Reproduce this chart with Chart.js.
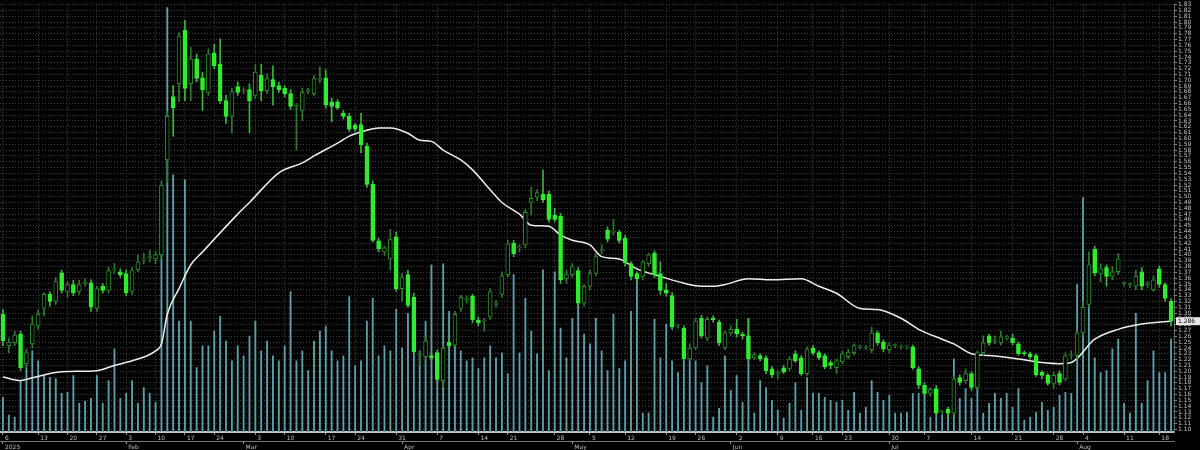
<!DOCTYPE html>
<html>
<head>
<meta charset="utf-8">
<script src="https://cdn.jsdelivr.net/npm/chart.js@4.4.1/dist/chart.umd.min.js"></script>
<style>
  html, body { margin: 0; padding: 0; background: #000; }
  #wrap { width: 1200px; height: 450px; }
</style>
</head>
<body>
<div id="wrap"><canvas id="price-chart" width="1200" height="450"></canvas></div>
<script>
// daily candles, Jan - Aug 2025
const opens = [1.298,1.244,1.249,1.264,1.213,1.247,1.278,1.308,1.332,1.320,
  1.369,1.337,1.349,1.337,1.351,1.352,1.308,1.346,1.339,1.374,
  1.371,1.368,1.337,1.374,1.393,1.395,1.393,1.400,1.563,1.672,
  1.694,1.786,1.694,1.737,1.704,1.679,1.747,1.728,1.665,1.638,
  1.689,1.682,1.684,1.674,1.709,1.682,1.701,1.691,1.686,1.677,
  1.655,1.648,1.682,1.677,1.701,1.704,1.663,1.663,1.643,1.638,
  1.623,1.624,1.587,1.521,1.424,1.405,1.393,1.431,1.342,1.366,
  1.327,1.227,1.225,1.227,1.232,1.184,1.250,1.245,1.308,1.323,
  1.329,1.288,1.286,1.293,1.315,1.332,1.366,1.420,1.412,1.417,
  1.490,1.499,1.504,1.504,1.468,1.466,1.359,1.366,1.373,1.317,
  1.346,1.368,1.407,1.442,1.439,1.439,1.429,1.385,1.368,1.363,
  1.385,1.403,1.368,1.340,1.330,1.278,1.274,1.221,1.240,1.291,
  1.257,1.291,1.284,1.240,1.266,1.272,1.264,1.261,1.223,1.227,
  1.223,1.204,1.196,1.206,1.204,1.230,1.223,1.196,1.240,1.232,
  1.227,1.215,1.206,1.216,1.225,1.232,1.242,1.240,1.237,1.266,
  1.250,1.237,1.244,1.242,1.242,1.242,1.204,1.176,1.162,1.170,
  1.130,1.135,1.128,1.189,1.184,1.196,1.172,1.232,1.261,1.252,
  1.249,1.257,1.257,1.247,1.232,1.230,1.227,1.198,1.193,1.179,
  1.196,1.187,1.227,1.227,1.266,1.315,1.410,1.368,1.378,1.363,
  1.371,1.351,1.349,1.346,1.371,1.349,1.340,1.376,1.349,1.320];

const highs = [1.306,1.257,1.269,1.269,1.238,1.295,1.306,1.335,1.337,1.361,
  1.374,1.354,1.356,1.356,1.359,1.357,1.346,1.351,1.380,1.385,
  1.376,1.374,1.378,1.400,1.402,1.408,1.405,1.527,1.646,1.691,
  1.782,1.803,1.757,1.745,1.714,1.754,1.762,1.771,1.674,1.686,
  1.697,1.687,1.694,1.728,1.728,1.711,1.725,1.697,1.691,1.684,
  1.660,1.686,1.686,1.708,1.723,1.718,1.669,1.667,1.648,1.643,
  1.626,1.643,1.592,1.527,1.429,1.415,1.444,1.439,1.368,1.374,
  1.334,1.235,1.259,1.230,1.237,1.244,1.257,1.303,1.330,1.329,
  1.332,1.293,1.291,1.342,1.322,1.371,1.425,1.425,1.417,1.478,
  1.516,1.512,1.546,1.509,1.480,1.471,1.374,1.385,1.378,1.349,
  1.374,1.402,1.417,1.448,1.461,1.442,1.434,1.388,1.371,1.391,
  1.403,1.407,1.388,1.351,1.335,1.281,1.278,1.247,1.291,1.296,
  1.293,1.295,1.288,1.269,1.278,1.289,1.267,1.291,1.232,1.230,
  1.227,1.208,1.201,1.210,1.225,1.235,1.227,1.242,1.244,1.235,
  1.230,1.218,1.221,1.235,1.238,1.247,1.245,1.244,1.276,1.269,
  1.254,1.249,1.247,1.245,1.244,1.245,1.208,1.181,1.172,1.176,
  1.133,1.138,1.191,1.194,1.204,1.199,1.235,1.261,1.264,1.261,
  1.269,1.262,1.264,1.250,1.235,1.233,1.230,1.201,1.196,1.198,
  1.201,1.232,1.235,1.269,1.320,1.405,1.415,1.385,1.383,1.380,
  1.402,1.354,1.352,1.374,1.378,1.354,1.364,1.381,1.352,1.325];

const lows = [1.244,1.232,1.244,1.201,1.208,1.240,1.272,1.295,1.312,1.315,
  1.334,1.327,1.330,1.332,1.346,1.303,1.303,1.334,1.334,1.368,
  1.361,1.330,1.332,1.371,1.385,1.388,1.385,1.393,1.524,1.604,
  1.663,1.665,1.665,1.697,1.648,1.674,1.720,1.660,1.626,1.609,
  1.674,1.677,1.609,1.669,1.665,1.677,1.657,1.679,1.672,1.650,
  1.580,1.631,1.677,1.674,1.696,1.652,1.629,1.650,1.633,1.612,
  1.612,1.575,1.516,1.422,1.405,1.398,1.374,1.337,1.320,1.310,
  1.230,1.210,1.218,1.218,1.181,1.172,1.238,1.242,1.303,1.317,
  1.283,1.278,1.269,1.289,1.310,1.327,1.361,1.397,1.405,1.412,
  1.468,1.493,1.490,1.456,1.456,1.351,1.351,1.361,1.312,1.312,
  1.340,1.364,1.402,1.422,1.434,1.420,1.381,1.357,1.354,1.357,
  1.380,1.361,1.332,1.329,1.272,1.274,1.218,1.218,1.237,1.257,
  1.252,1.284,1.244,1.237,1.262,1.259,1.255,1.218,1.220,1.218,
  1.196,1.189,1.187,1.196,1.201,1.215,1.193,1.193,1.228,1.220,
  1.204,1.204,1.196,1.213,1.221,1.228,1.238,1.237,1.232,1.245,
  1.233,1.232,1.240,1.238,1.238,1.203,1.170,1.157,1.157,1.126,
  1.125,1.119,1.125,1.176,1.179,1.167,1.169,1.227,1.245,1.247,
  1.245,1.254,1.245,1.227,1.227,1.221,1.191,1.187,1.176,1.170,
  1.177,1.184,1.221,1.221,1.262,1.310,1.364,1.354,1.346,1.357,
  1.366,1.346,1.344,1.340,1.340,1.344,1.337,1.344,1.320,1.278];

const closes = [1.252,1.250,1.262,1.206,1.232,1.281,1.298,1.332,1.320,1.354,
  1.339,1.349,1.335,1.349,1.351,1.310,1.342,1.339,1.373,1.376,
  1.366,1.335,1.373,1.388,1.395,1.397,1.400,1.519,1.638,1.653,
  1.776,1.686,1.737,1.703,1.684,1.745,1.725,1.665,1.638,1.680,
  1.679,1.682,1.665,1.714,1.682,1.703,1.689,1.684,1.677,1.655,
  1.655,1.679,1.682,1.703,1.701,1.657,1.655,1.653,1.638,1.616,
  1.616,1.589,1.521,1.425,1.410,1.412,1.427,1.342,1.361,1.313,
  1.233,1.227,1.252,1.223,1.186,1.240,1.244,1.298,1.327,1.323,
  1.288,1.283,1.286,1.337,1.315,1.364,1.419,1.402,1.412,1.473,
  1.497,1.507,1.495,1.461,1.461,1.357,1.366,1.380,1.317,1.346,
  1.368,1.397,1.408,1.427,1.439,1.425,1.386,1.363,1.359,1.388,
  1.400,1.366,1.339,1.334,1.276,1.278,1.221,1.240,1.286,1.261,
  1.289,1.288,1.249,1.266,1.272,1.264,1.261,1.221,1.228,1.221,
  1.201,1.194,1.196,1.199,1.221,1.218,1.196,1.238,1.232,1.223,
  1.208,1.210,1.218,1.230,1.233,1.244,1.242,1.240,1.266,1.249,
  1.238,1.245,1.244,1.242,1.242,1.206,1.176,1.162,1.169,1.128,
  1.130,1.128,1.187,1.181,1.196,1.172,1.232,1.249,1.249,1.252,
  1.259,1.257,1.249,1.230,1.230,1.225,1.194,1.193,1.179,1.193,
  1.181,1.227,1.227,1.266,1.310,1.383,1.369,1.376,1.363,1.371,
  1.393,1.351,1.349,1.363,1.346,1.352,1.357,1.349,1.325,1.286];

const volumes = [35,17,15,52,65,82,72,57,55,54,
  39,40,57,29,31,34,57,29,52,84,
  34,39,52,29,45,39,30,249,429,260,
  112,255,112,65,87,87,102,117,92,72,
  87,77,97,112,82,92,77,72,87,142,
  72,82,62,92,102,107,82,72,77,137,
  67,72,112,135,77,87,82,124,85,120,
  92,82,112,169,62,170,122,119,82,72,
  75,64,75,87,75,80,59,159,80,135,
  102,79,164,62,162,105,75,115,142,99,
  89,115,82,62,119,64,72,122,154,19,
  19,114,75,109,72,60,72,80,72,50,
  67,15,24,77,42,57,30,114,19,52,
  45,32,22,14,29,50,22,55,39,39,
  35,32,30,32,22,40,19,25,52,40,
  32,37,19,19,20,39,39,47,15,34,
  17,19,74,34,44,34,47,19,29,39,
  34,39,25,44,12,15,20,30,22,25,
  37,40,39,149,237,160,75,60,62,84,
  94,29,19,120,29,52,82,60,60,94];

// moving average, read at these candle positions
const maIdx = [0,3,4,10,16,19,22,26,27,28,30,32,34,40,42,47,51,53,57,59,
  62,64,66,69,71,73,75,78,80,83,85,88,90,93,95,97,100,102,105,106,
  108,112,115,119,121,123,127,131,136,139,142,146,149,153,156,160,162,165,168,173,
  177,180,182,186,190,194,199];
const maVals = [1.190,1.184,1.186,1.199,1.201,1.210,1.218,1.235,1.247,1.298,
  1.342,1.383,1.405,1.470,1.490,1.541,1.558,1.570,1.592,1.604,
  1.614,1.618,1.618,1.609,1.597,1.595,1.580,1.563,1.546,1.512,
  1.490,1.470,1.451,1.449,1.434,1.425,1.417,1.397,1.393,1.388,
  1.376,1.363,1.354,1.346,1.346,1.349,1.359,1.357,1.359,1.346,
  1.334,1.308,1.306,1.291,1.272,1.255,1.247,1.230,1.227,1.221,
  1.215,1.213,1.215,1.255,1.272,1.281,1.286];

const weekIdx = [0,6,11,16,21,26,31,36,43,48,55,60,67,74,81,86,94,100,106,113,
  118,125,132,138,143,151,157,165,172,179,184,191,197];
const weekText = ['6','13','20','27','3','10','17','24','3','10','17','24','31','7','14','21','28','5','12','19',
  '26','2','9','16','23','30','7','14','21','28','4','11','18'];
const monthIdx = [0,21,41,68,97,124,151,183];
const monthText = ['2025','Feb','Mar','Apr','May','Jun','Jul','Aug'];

const BRIGHT = '#2fec2f';
const DIM = '#2b8a2b';

const isUp = opens.map((o, i) => closes[i] >= o);

Chart.defaults.font.family = 'DejaVu Sans';

const blackBg = {
    id: 'blackBg',
    beforeDraw(chart) {
        const c = chart.ctx;
        c.save();
        c.fillStyle = '#000';
        c.fillRect(0, 0, chart.width, chart.height);
        c.restore();
    }
};

// white box with the last close on the price scale
const lastPrice = {
    id: 'lastPrice',
    afterDraw(chart) {
        const c = chart.ctx;
        const last = closes[closes.length - 1];
        const y = chart.scales.y.getPixelForValue(last);
        const x = chart.chartArea.right + 2;
        c.save();
        c.fillStyle = '#e6e6e6';
        c.fillRect(x, y - 4, 24, 8);
        c.fillStyle = '#000';
        c.font = '6px DejaVu Sans';
        c.textBaseline = 'middle';
        c.fillText(last.toFixed(3), x + 2, y + 0.5);
        c.restore();
    }
};

const ctx = document.getElementById('price-chart').getContext('2d');
const priceChart = new Chart(ctx, {
    type: 'bar',
    data: {
        datasets: [
            {
                label: 'Volume',
                type: 'bar',
                yAxisID: 'yVol',
                data: volumes.map((v, i) => ({ x: i, y: v })),
                backgroundColor: '#5e9fa9',
                barThickness: 1.2,
                grouped: false,
                order: 4
            },
            {
                label: 'MA',
                type: 'line',
                data: maIdx.map((x, k) => ({ x: x, y: maVals[k] })),
                borderColor: '#eeeeee',
                borderWidth: 1.5,
                pointRadius: 0,
                cubicInterpolationMode: 'monotone',
                order: 3
            },
            {
                label: 'Wick',
                type: 'bar',
                data: lows.map((l, i) => ({ x: i, y: [l, highs[i]] })),
                backgroundColor: isUp.map(u => u ? '#2f7a2f' : '#3db53d'),
                barThickness: 1,
                grouped: false,
                order: 2
            },
            {
                label: 'Body',
                type: 'bar',
                data: opens.map((o, i) => ({ x: i, y: [o, closes[i]] })),
                backgroundColor: isUp.map(u => u ? '#000' : BRIGHT),
                borderColor: isUp.map(u => u ? DIM : BRIGHT),
                borderWidth: 1,
                borderSkipped: false,
                barThickness: 4,
                minBarLength: 1,
                grouped: false,
                order: 1
            }
        ]
    },
    options: {
        responsive: false,
        animation: false,
        layout: { padding: 0, autoPadding: false },
        plugins: { legend: { display: false }, tooltip: { enabled: false } },
        scales: {
            x: {
                type: 'linear',
                min: -0.5,
                max: 199.5,
                offset: false,
                weight: 0,
                afterBuildTicks: s => { s.ticks = weekIdx.map(v => ({ value: v })); },
                afterFit: s => { s.height = 9; },
                grid: { offset: false, color: '#474747', tickLength: 3, tickColor: '#9a9a9a' },
                border: { display: true, color: '#c4c4c4', width: 2, dash: [1, 2] },
                ticks: {
                    autoSkip: false, maxRotation: 0, align: 'start', labelOffset: 2,
                    padding: 0, color: '#bdbdbd', font: { size: 6 },
                    callback: (v, i) => weekText[i]
                }
            },
            x2: {
                type: 'linear',
                position: 'bottom',
                min: -0.5,
                max: 199.5,
                offset: false,
                weight: 1,
                afterBuildTicks: s => { s.ticks = monthIdx.map(v => ({ value: v })); },
                afterFit: s => { s.height = 9; },
                grid: { offset: false, drawOnChartArea: false, tickLength: 3, tickColor: '#9a9a9a' },
                border: { display: true, color: '#777', width: 1 },
                ticks: {
                    autoSkip: false, maxRotation: 0, align: 'start', labelOffset: 2,
                    padding: 0, color: '#bdbdbd', font: { size: 6 },
                    callback: (v, i) => monthText[i]
                }
            },
            y: {
                position: 'right',
                min: 1.0956,
                max: 1.83,
                afterFit: s => { s.width = 26; },
                grid: { color: '#3d3d3d', tickLength: 3, tickColor: '#8a8a8a' },
                border: { display: true, color: '#6a6a6a', dash: [1, 2] },
                ticks: {
                    stepSize: 0.01, autoSkip: false, includeBounds: false,
                    padding: 1, color: '#c8c8c8', font: { size: 6 },
                    callback: v => v.toFixed(2)
                }
            },
            yVol: {
                display: false,
                min: 0,
                max: 432
            }
        }
    },
    plugins: [blackBg, lastPrice]
});
</script>
</body>
</html>
